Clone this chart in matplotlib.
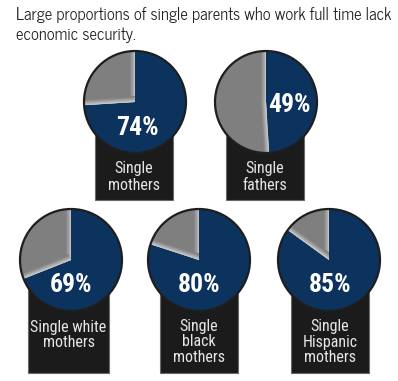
import numpy as np
import matplotlib
matplotlib.use("Agg")
import matplotlib.pyplot as plt
from matplotlib.patches import Rectangle, Circle

# DATA
groups = ["Single\nmothers", "Single\nfathers", "Single white\nmothers",
          "Single\nblack\nmothers", "Single\nHispanic\nmothers"]
pct_insecure = [74, 49, 69, 80, 85]
title = "Large proportions of single parents who work full time lack\neconomic security."

# LAYOUT (pixels, y measured from top)
W, H = 398, 381
pie_centers = [(135, 102), (266, 102), (71, 260), (199, 260), (329, 260)]
radius = 51
boxes = [(95, 173, 120, 200), (226, 304, 120, 200),
         (28, 109, 280, 373), (160, 238, 280, 373), (291, 369, 280, 373)]
pct_pos = [(137, 128), (289, 105), (71, 285), (199, 285), (330, 285)]
label_y = [177, 177, 335, 342, 342]
label_ls = [1.2, 1.2, 1.05, 1.05, 1.05]

BLUE = "#0b335e"
GRAY = "#7f7f7f"
BOX = "#1b1b1b"
COND = ["Roboto Condensed", "DejaVu Sans"]
TITLE_FONT = ["News Cycle", "DejaVu Sans"]

fig = plt.figure(figsize=(W / 100, H / 100), dpi=100)
ax = fig.add_axes([0, 0, 1, 1])


def py(y):
    return H - y


def shade_edges(ax, wedge, cx, cy, r):
    # soft light bevel along the straight edges of the gray slice
    t1, t2 = np.radians(wedge.theta1), np.radians(wedge.theta2)
    edges = [(t1, np.array([-np.sin(t1), np.cos(t1)])),
             (t2, np.array([np.sin(t2), -np.cos(t2)]))]
    steps = 8
    for t, n in edges:
        u = np.array([np.cos(t), np.sin(t)])
        for i in range(steps):
            d = i * 0.8
            f = (i / (steps - 1)) ** 0.8
            c = (1 - f) * np.array([0.86, 0.86, 0.86]) + f * np.array([0.5, 0.5, 0.5])
            p0 = np.array([cx, cy]) + d * n
            p1 = p0 + r * 1.05 * u
            ln, = ax.plot([p0[0], p1[0]], [p0[1], p1[1]], color=c, lw=0.9,
                          solid_capstyle="butt", zorder=3)
            ln.set_clip_path(wedge)


for i in range(len(groups)):
    x0, x1, y0, y1 = boxes[i]
    ax.add_patch(Rectangle((x0, py(y1)), x1 - x0, y1 - y0, facecolor=BOX,
                           edgecolor="#6a6a6a", lw=0.8, zorder=1))
    ax.text((x0 + x1) / 2, py(label_y[i]), groups[i], color="#e6e6e6",
            ha="center", va="center", fontsize=11.5, family=COND,
            linespacing=label_ls[i], zorder=5)

    cx, cy = pie_centers[i][0], py(pie_centers[i][1])
    wedges, _ = ax.pie([pct_insecure[i], 100 - pct_insecure[i]],
                       colors=[BLUE, GRAY], startangle=90, counterclock=False,
                       center=(cx, cy), radius=radius,
                       wedgeprops=dict(linewidth=0, zorder=2))
    for w in wedges:
        w.set_zorder(2)
    shade_edges(ax, wedges[1], cx, cy, radius)
    ax.add_patch(Circle((cx, cy), radius, facecolor="none",
                        edgecolor="#1e1e1e", lw=1.6, zorder=4))

    ax.text(pct_pos[i][0], py(pct_pos[i][1]), f"{pct_insecure[i]}%",
            color="white", ha="center", va="center", fontsize=18.5,
            fontweight="bold", family=COND, zorder=5)

fig.text(16 / W, 1 - 7 / H, title, ha="left", va="top", fontsize=11.9,
         family=TITLE_FONT, color="#222222", linespacing=1.32)

ax.set_xlim(0, W)
ax.set_ylim(0, H)
ax.set_aspect("equal")
ax.axis("off")

fig.savefig("out.png", dpi=100)
